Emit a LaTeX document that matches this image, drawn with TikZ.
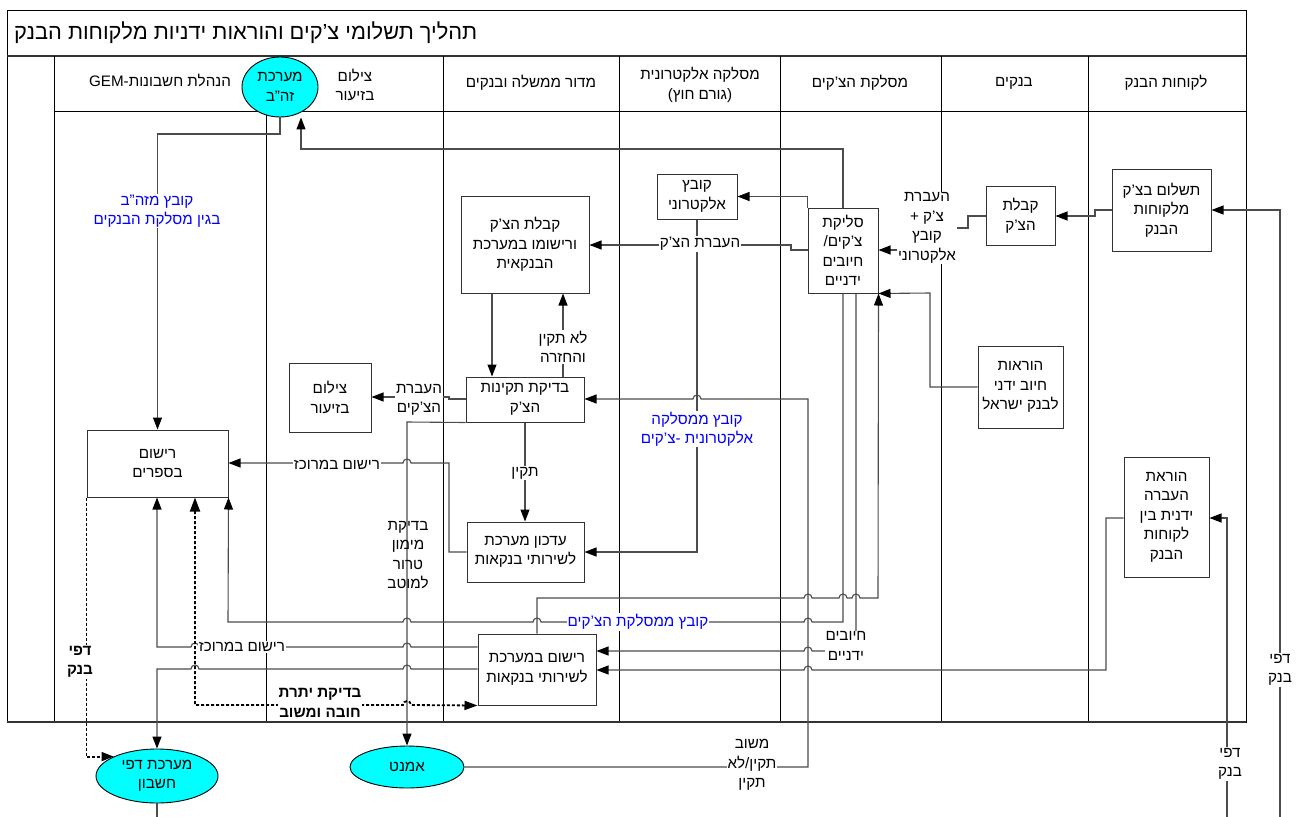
\documentclass[tikz,border=0pt]{standalone}
\usepackage{fontspec}
\setmainfont{Liberation Sans}[Script=Hebrew]
\TeXXeTstate=1
\usetikzlibrary{arrows.meta,shapes.geometric}
\definecolor{sysfill}{RGB}{0,255,255}
\definecolor{filelabel}{RGB}{0,0,255}
% right-to-left line
\newcommand\heb[1]{\beginR #1\endR}
% line hops over a vertical connector (going left / going right)
\newcommand\hopl[2]{-- ({#1+4},#2) arc[start angle=0,end angle=180,radius=4pt]}
\newcommand\hopr[2]{-- ({#1-4},#2) arc[start angle=180,end angle=0,radius=4pt]}
\begin{document}
\begin{tikzpicture}[x=1pt,y=-1pt,
  font=\fontsize{15.2}{19.5}\selectfont,
  lane/.style={draw=black,line width=0.8pt},
  heavy/.style={draw=black!80,line width=1.8pt},
  box/.style={draw=black!80,line width=1pt,fill=white,align=center,inner sep=0pt},
  oval/.style={ellipse,draw=black,line width=0.9pt,fill=sysfill,align=center,inner sep=0pt},
  conn/.style={draw=black!70,line width=1.1pt},
  arr/.style={-{Triangle[length=12pt,width=9pt,color=black]}},
  dblarr/.style={{Triangle[length=14pt,width=10pt,color=black]}-{Triangle[length=13pt,width=9pt,color=black]}},
  dots/.style={draw=black,line width=1.8pt,dash pattern=on 3pt off 2pt},
  lbl/.style={fill=white,align=center,inner sep=1pt},
  bluelbl/.style={lbl,text=filelabel},
  boldlbl/.style={lbl,font=\fontsize{15.2}{19.5}\selectfont\bfseries},
  hdr/.style={align=center,inner sep=0pt},
]
\useasboundingbox (0,0) rectangle (1300,816);

% ---------- swimlane frame ----------
\draw[lane] (7,10) rectangle (1246,722);
\draw[heavy] (7,56) -- (1246,56);
\draw[lane] (54,111) -- (1246,111);
\foreach \xx in {54,443,619,780,941,1088} \draw[lane] (\xx,56) -- (\xx,722);
\draw[lane] (266,111) -- (266,722);
\draw[heavy] (7,722) -- (1246,722);

\node[anchor=west,inner sep=0pt,font=\fontsize{21.8}{24}\selectfont] (title) at (14,33)
  {\heb{תהליך תשלומי צ'קים והוראות ידניות מלקוחות הבנק}};

% lane headers
\node[hdr] (hcust) at (1166,83) {\heb{לקוחות הבנק}};
\node[hdr] (hbanks) at (1014,83) {\heb{בנקים}};
\node[hdr] (hclear) at (860,83) {\heb{מסלקת הצ'קים}};
\node[hdr] (hext) at (700,85) {\heb{מסלקה אלקטרונית}\\\heb{(גורם חוץ)}};
\node[hdr] (hgov) at (531,83) {\heb{מדור ממשלה ובנקים}};
\node[hdr] (hphoto) at (355,85) {\heb{צילום}\\\heb{בזיעור}};
\node[hdr] (hgem) at (160,80) {\heb{הנהלת חשבונות-\beginL GEM\endL}};

% ---------- process boxes ----------
\node[box,minimum width=99pt,minimum height=82pt] (pay) at (1161.5,210)
  {\heb{תשלום בצ'ק}\\\heb{מלקוחות}\\\heb{הבנק}};
\node[box,minimum width=69pt,minimum height=59pt] (recv) at (1020.5,215.5)
  {\heb{קבלת}\\\heb{הצ'ק}};
\node[box,minimum width=85pt,minimum height=82pt] (instr) at (1020.5,387)
  {\heb{הוראות}\\\heb{חיוב ידני}\\\heb{לבנק ישראל}};
\node[box,minimum width=85pt,minimum height=120pt] (transfer) at (1166.5,517)
  {\heb{הוראת}\\\heb{העברה}\\\heb{ידנית בין}\\\heb{לקוחות}\\\heb{הבנק}};
\node[box,minimum width=70pt,minimum height=85pt] (clear) at (843,250.5)
  {\heb{סליקת}\\\heb{צ'קים/}\\\heb{חיובים}\\\heb{ידניים}};
\node[box,minimum width=80pt,minimum height=45pt] (efile) at (697,196.5)
  {\heb{קובץ}\\\heb{אלקטרוני}};
\node[box,minimum width=128pt,minimum height=97pt] (recvreg) at (525,244.5)
  {\heb{קבלת הצ'ק}\\\heb{ורישומו במערכת}\\\heb{הבנקאית}};
\node[box,minimum width=118pt,minimum height=45pt] (check) at (525,399.5)
  {\heb{בדיקת תקינות}\\\heb{הצ'ק}};
\node[box,minimum width=117pt,minimum height=60pt] (update) at (525.5,552)
  {\heb{עדכון מערכת}\\\heb{לשירותי בנקאות}};
\node[box,minimum width=118pt,minimum height=71pt] (regsys) at (537,669.5)
  {\heb{רישום במערכת}\\\heb{לשירותי בנקאות}};
\node[box,minimum width=82pt,minimum height=69pt] (photo) at (330,397.5)
  {\heb{צילום}\\\heb{בזיעור}};
\node[box,minimum width=141pt,minimum height=67pt] (books) at (157.5,463.5)
  {\heb{רישום}\\\heb{בספרים}};

% external systems
\node[oval,minimum width=76pt,minimum height=60pt] (zahav) at (280,87)
  {\heb{מערכת}\\\heb{זה"ב}};
\node[oval,minimum width=122pt,minimum height=54pt] (dapei) at (157,776)
  {\heb{מערכת דפי}\\\heb{חשבון}};
\node[oval,minimum width=114pt,minimum height=42pt] (amnet) at (407,767)
  {\heb{אמנט}};

% loose ends running off the sheet
\coordinate (stmtA) at (1280,817);
\coordinate (stmtB) at (1227,817);
\coordinate (dapeiout) at (157,817);

% ---------- connectors ----------
% customers -> banks -> clearing
\draw[conn,arr] (stmtA) -- (1280,210) -- (pay.east |- 0,210);
\draw[conn,arr] (pay.west |- 0,210) -- (1095,210) -- (1095,216) -- (recv.east |- 0,216);
\draw[conn,arr] (recv.west |- 0,216) -- (968,216) -- (968,228) -- (920,228) -- (920,250) -- (clear.east |- 0,250);
\draw[conn,arr] (instr.west) -- (930,387) -- (930,293) -- (clear.south east);
\draw[conn,arr] (stmtB) -- (1227,518) -- (transfer.east |- 0,518);

% clearing outputs
\draw[conn,arr] (clear.north) -- (843,149) -- (301,149) -- (zahav.south -| 301,0);
\draw[conn,arr] (clear.north west) -- (clear.north west |- efile.east) -- (efile.east);
\draw[conn,arr] (clear.west |- 0,250) -- (791,250) -- (791,245) -- (recvreg.east |- 0,245);
\draw[conn,arr] (efile.south) -- (697,552) -- (update.east);

% bank desk flow
\draw[conn,arr] (recvreg.south -| 492,0) -- (check.north -| 492,0);
\draw[conn,arr] (check.north -| 563,0) -- (recvreg.south -| 563,0);
\draw[conn,arr] (check.south -| 525,0) -- (update.north -| 525,0);
\draw[conn,arr] (check.west |- 0,399) -- (449,399) -- (449,397) -- (photo.east |- 0,397);
\draw[conn,arr] (check.south west) -- (407,422) -- (amnet.north);
\draw[conn,arr] (amnet.east) -- (808,767) -- (808,399) \hopl{697}{399} -- (check.east |- 0,399);
\draw[conn,arr] (update.west) -- (449,552) -- (449,463) \hopl{407}{463} -- (books.east |- 0,463);

% clearing file and manual debits
\draw[conn,arr] (regsys.north -| 537,0) -- (537,598) \hopr{808}{598} \hopr{843}{598} \hopr{856}{598} -- (878,598) -- (clear.south east);
\draw[conn,arr] (clear.south -| 843,0) -- (843,622) \hopl{808}{622} \hopl{537}{622} \hopl{407}{622} -- (228,622) -- (books.south east);
\draw[conn,arr] (clear.south -| 856,0) -- (856,651) \hopl{808}{651} -- (regsys.east |- 0,651);
\draw[conn,arr] (transfer.west |- 0,518) -- (1106,518) -- (1106,670) \hopl{808}{670} -- (regsys.east |- 0,670);

% accounting
\draw[conn,arr] (zahav.south) -- (280,134) -- (157.5,134) -- (books.north);
\draw[conn,arr] (regsys.west |- 0,647) \hopl{407}{647} \hopl{195}{647} -- (157,647) -- (books.south -| 157,0);
\draw[conn,arr] (regsys.west |- 0,669) \hopl{407}{669} \hopl{195}{669} -- (157,669) -- (dapei.north);
\draw[conn] (dapei.south) -- (dapeiout);

% dotted checks
\draw[dots,dblarr] (books.south -| 195,0) -- (195,705) \hopr{407}{705} -- (regsys.south west);
\draw[dots,arr] (books.south west) -- (books.south west |- dapei.north west) -- (dapei.north west);

% ---------- connector labels ----------
\node[bluelbl] (lzahav) at (157,211) {\heb{קובץ מזה"ב}\\\heb{בגין מסלקת הבנקים}};
\node[lbl] (lxfer) at (927,228) {\heb{העברת}\\\heb{צ'ק +}\\\heb{קובץ}\\\heb{אלקטרוני}};
\node[lbl] (lxcheck) at (700,244) {\heb{העברת הצ'ק}};
\node[lbl] (lnotok) at (563,347) {\heb{לא תקין}\\\heb{והחזרה}};
\node[lbl] (lok) at (525,473) {\heb{תקין}};
\node[lbl] (lxchecks) at (419,400) {\heb{העברת}\\\heb{הצ'קים}};
\node[bluelbl] (lefile) at (697,429) {\heb{קובץ ממסלקה}\\\heb{אלקטרונית -צ'קים}};
\node[lbl] (lcentral) at (337,465) {\heb{רישום במרוכז}};
\node[align=center,inner sep=1pt] (lterror) at (408,555) {\heb{בדיקת}\\\heb{מימון}\\\heb{טרור}\\\heb{למוטב}};
\node[bluelbl] (lcfile) at (638,622) {\heb{קובץ ממסלקת הצ'קים}};
\node[lbl] (ldebits) at (846,646) {\heb{חיובים}\\\heb{ידניים}};
\node[lbl] (lcentral2) at (242,647) {\heb{רישום במרוכז}};
\node[boldlbl] (lbalance) at (320,703) {\heb{בדיקת יתרת}\\\heb{חובה ומשוב}};
\node[boldlbl] (lstmt) at (80,662) {\heb{דפי}\\\heb{בנק}};
\node[lbl] (lfeedback) at (752,765) {\heb{משוב}\\\heb{תקין/לא}\\\heb{תקין}};
\node[lbl] (lstmtA) at (1280,670) {\heb{דפי}\\\heb{בנק}};
\node[lbl] (lstmtB) at (1230,764) {\heb{דפי}\\\heb{בנק}};
\end{tikzpicture}
\end{document}
